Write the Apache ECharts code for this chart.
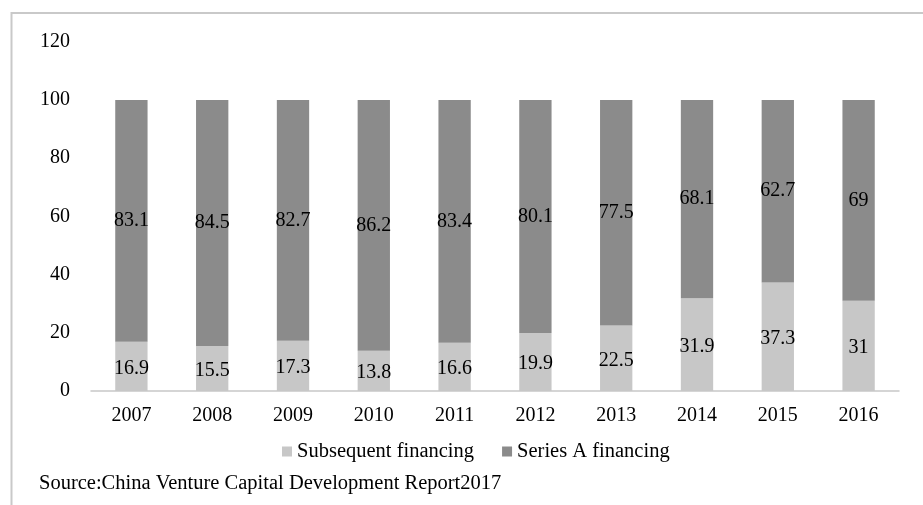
<!DOCTYPE html>
<html>
<head>
<meta charset="utf-8">
<script src="https://cdn.jsdelivr.net/npm/echarts@6/dist/echarts.min.js"></script>
<style>
html,body{margin:0;padding:0;background:#fff;}
#chart{width:923px;height:505px;}
</style>
</head>
<body>
<div id="chart"></div>
<script>
var years = ['2007','2008','2009','2010','2011','2012','2013','2014','2015','2016'];
var subsequentFinancing = [16.9, 15.5, 17.3, 13.8, 16.6, 19.9, 22.5, 31.9, 37.3, 31];
var seriesAFinancing = [83.1, 84.5, 82.7, 86.2, 83.4, 80.1, 77.5, 68.1, 62.7, 69];
var seriesNames = ['Subsequent financing', 'Series A financing'];
var sourceText = 'Source:China Venture Capital Development Report2017';

var FONT = '"Liberation Serif", "Times New Roman", serif';
var chart = echarts.init(document.getElementById('chart'), null, {renderer: 'canvas'});
chart.setOption({
  animation: false,
  backgroundColor: '#fff',
  textStyle: {fontFamily: FONT, color: '#000'},
  graphic: [
    {type: 'rect', shape: {x: 11.5, y: 13, width: 2000, height: 2000}, style: {fill: 'none', stroke: '#c9c9c9', lineWidth: 2}, z: -1},
    {type: 'text', left: 39, top: 473, style: {text: sourceText, font: '20.5px ' + FONT, fill: '#000'}}
  ],
  legend: {
    data: seriesNames,
    left: 277,
    top: 436,
    itemWidth: 10,
    itemHeight: 10,
    itemGap: 28,
    icon: 'rect',
    textStyle: {fontFamily: FONT, fontSize: 20.5, color: '#000'}
  },
  grid: {left: 91, right: 24, top: 41.8, bottom: 114, containLabel: false},
  xAxis: {
    type: 'category',
    data: years,
    axisLine: {lineStyle: {color: '#c8c8c8', width: 1.5}},
    axisTick: {show: false},
    axisLabel: {fontFamily: FONT, fontSize: 20, color: '#000', margin: 15}
  },
  yAxis: {
    type: 'value',
    min: 0, max: 120, interval: 20,
    axisLine: {show: false},
    axisTick: {show: false},
    splitLine: {show: false},
    axisLabel: {fontFamily: FONT, fontSize: 20, color: '#000', margin: 21}
  },
  series: [
    {
      name: seriesNames[0], type: 'bar', stack: 'total', data: subsequentFinancing,
      barWidth: '40%',
      itemStyle: {color: '#c7c7c7'},
      label: {show: true, position: 'inside', fontFamily: FONT, fontSize: 20, color: '#000', offset: [0, 2]}
    },
    {
      name: seriesNames[1], type: 'bar', stack: 'total', data: seriesAFinancing,
      barWidth: '40%',
      itemStyle: {color: '#8b8b8b'},
      label: {show: true, position: 'inside', fontFamily: FONT, fontSize: 20, color: '#000', offset: [0, 0]}
    }
  ]
});
</script>
</body>
</html>
